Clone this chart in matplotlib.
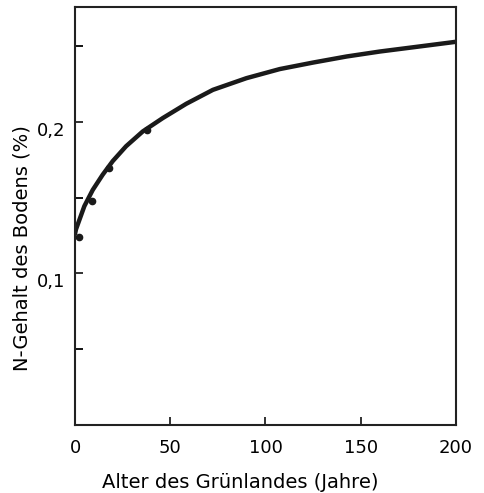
import numpy as np
import matplotlib.pyplot as plt

# Kurve
alter = [0, 0.5, 4.9, 9.3, 14.5, 19.8, 26.8, 35.6, 46.1, 58.4, 72.4, 90, 107.5,
         125, 142.6, 160.2, 177.7, 197, 200]
n_kurve = [0.126, 0.129, 0.1443, 0.155, 0.165, 0.174, 0.1838, 0.1936, 0.2024,
           0.2118, 0.221, 0.2287, 0.2347, 0.239, 0.243, 0.2463, 0.2491, 0.2522, 0.2527]

# Messpunkte
alter_p = [2.3, 8.7, 17.7, 37.7]
n_p = [0.124, 0.148, 0.1695, 0.1947]

xticks = [0, 50, 100, 150, 200]
yticks = [0.1, 0.2]
ylabels = ['0,1', '0,2']

fig = plt.figure(figsize=(4.84, 4.93), dpi=100)
ax = fig.add_axes([0.155, 0.138, 0.787, 0.848])

ax.plot(alter, n_kurve, color='#1a1a1a', lw=3.2, solid_capstyle='round',
        solid_joinstyle='round')
ax.plot(alter_p, n_p, 'o', color='#1a1a1a', ms=4.5)

ax.set_xlim(0, 200)
ax.set_ylim(0, 0.2757)
ax.set_xticks(xticks)
ax.set_yticks(yticks)
ax.set_yticklabels(ylabels)
ax.set_yticks([0.05, 0.15, 0.25], minor=True)
ax.tick_params(direction='in', length=6, width=1.3, labelsize=13, color='#222222')
ax.tick_params(axis='x', pad=10)
ax.tick_params(axis='y', pad=7)
ax.tick_params(which='minor', direction='in', length=6, width=1.3)
for lab in ax.get_yticklabels():
    lab.set_va('top')
for s in ax.spines.values():
    s.set_linewidth(1.5)
    s.set_color('#222222')

fig.text(240 / 484, 1 - 483 / 493, 'Alter des Grünlandes (Jahre)', fontsize=14,
         ha='center', va='center')
fig.text(22 / 484, 1 - 248 / 493, 'N-Gehalt des Bodens (%)', fontsize=14,
         ha='center', va='center', rotation=90)

plt.savefig('out.png', dpi=100)
